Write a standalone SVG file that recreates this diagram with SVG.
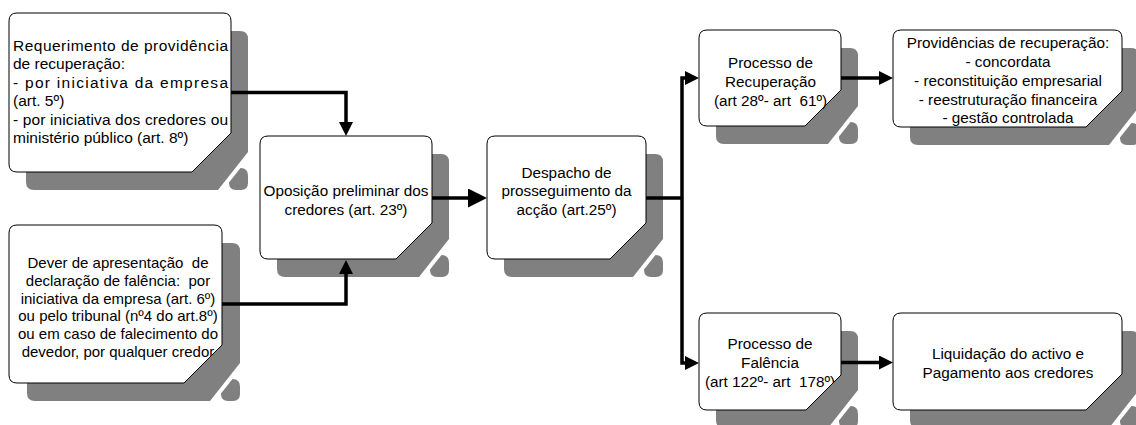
<svg xmlns="http://www.w3.org/2000/svg" width="1136" height="425" viewBox="0 0 1136 425">
<defs>
<style>
.sh{fill:#808080}
.bx{fill:#fff;stroke:#000;stroke-width:1}
.t{font-family:"Liberation Sans",Arial,sans-serif;font-size:15.3px;fill:#000}
.m{text-anchor:middle}
.cn{fill:none;stroke:#000;stroke-width:3.5;stroke-linejoin:miter}
</style>
<marker id="a" markerUnits="userSpaceOnUse" markerWidth="14" markerHeight="14" viewBox="0 0 14 14" refX="1" refY="7" orient="auto"><path d="M0,0 L14,7 L0,14 Z" fill="#000"/></marker>
<marker id="b" markerUnits="userSpaceOnUse" markerWidth="19" markerHeight="19" viewBox="0 0 19 19" refX="1" refY="9.5" orient="auto"><path d="M0,0 L19,9.5 L0,19 Z" fill="#000"/></marker>
<clipPath id="k2"><path d="M8,0 H205 Q213,0 213,8 V120 L175,158 H8 Q0,158 0,150 V8 Q0,0 8,0 Z"/></clipPath>
<clipPath id="k7"><path d="M8,0 H134 Q142,0 142,8 V62 L107,97 H8 Q0,97 0,89 V8 Q0,0 8,0 Z"/></clipPath>
</defs>

<g id="n1" transform="translate(9,13)">
<g transform="translate(17,18)">
<path class="sh" d="M8,0 H214 Q222,0 222,8 V121 L192,159 H8 Q0,159 0,151 V8 Q0,0 8,0 Z"/>
<path class="sh" d="M203,151.5 L214.5,137 Q222,137 222,144.5 V152 Q222,159 215,159 H210 Q203,159 203,152 Z"/>
</g>
<path class="bx" d="M8,0 H214 Q222,0 222,8 V120 L183,159 H8 Q0,159 0,151 V8 Q0,0 8,0 Z"/>
<g class="t" style="font-size:15.5px">
<text x="4" y="38" textLength="215" lengthAdjust="spacing">Requerimento de providência</text>
<text x="4" y="56">de recuperação:</text>
<text x="4" y="75" textLength="215" lengthAdjust="spacing">- por iniciativa  da empresa</text>
<text x="4" y="93">(art. 5º)</text>
<text x="4" y="112" textLength="215" lengthAdjust="spacing">- por iniciativa dos credores ou</text>
<text x="4" y="130">ministério público (art. 8º)</text>
</g>
</g>

<g id="n2" transform="translate(9,225)">
<g transform="translate(18,18)">
<path class="sh" d="M8,0 H205 Q213,0 213,8 V120 L183,158 H8 Q0,158 0,150 V8 Q0,0 8,0 Z"/>
<path class="sh" d="M194,150.5 L205.5,136 Q213,136 213,143.5 V151 Q213,158 206,158 H201 Q194,158 194,151 Z"/>
</g>
<path class="bx" d="M8,0 H205 Q213,0 213,8 V120 L175,158 H8 Q0,158 0,150 V8 Q0,0 8,0 Z"/>
<g class="t m" style="font-size:15px" clip-path="url(#k2)">
<text x="109" y="43" xml:space="preserve">Dever de apresentação  de</text>
<text x="109" y="60.8" xml:space="preserve">declaração de falência:  por</text>
<text x="109" y="78.6">iniciativa da empresa (art. 6º)</text>
<text x="109" y="96.4">ou pelo tribunal (nº4 do art.8º)</text>
<text x="109" y="114.2">ou em caso de falecimento do</text>
<text x="109" y="132">devedor, por qualquer credor</text>
</g>
</g>

<g id="n3" transform="translate(260,136)">
<g transform="translate(17,18)">
<path class="sh" d="M8,0 H164 Q172,0 172,8 V85 L142,123 H8 Q0,123 0,115 V8 Q0,0 8,0 Z"/>
<path class="sh" d="M153,115.5 L164.5,101 Q172,101 172,108.5 V116 Q172,123 165,123 H160 Q153,123 153,116 Z"/>
</g>
<path class="bx" d="M8,0 H164 Q172,0 172,8 V87 L136,123 H8 Q0,123 0,115 V8 Q0,0 8,0 Z"/>
<g class="t m">
<text x="86" y="59.5">Oposição preliminar dos</text>
<text x="86" y="78.5">credores (art. 23º)</text>
</g>
</g>

<g id="n4" transform="translate(487,136)">
<g transform="translate(17,18)">
<path class="sh" d="M8,0 H151 Q159,0 159,8 V85 L129,123 H8 Q0,123 0,115 V8 Q0,0 8,0 Z"/>
<path class="sh" d="M140,115.5 L151.5,101 Q159,101 159,108.5 V116 Q159,123 152,123 H147 Q140,123 140,116 Z"/>
</g>
<path class="bx" d="M8,0 H151 Q159,0 159,8 V87 L123,123 H8 Q0,123 0,115 V8 Q0,0 8,0 Z"/>
<g class="t m">
<text x="79.5" y="41.5">Despacho de</text>
<text x="79.5" y="60">prosseguimento da</text>
<text x="79.5" y="78.5">acção (art.25º)</text>
</g>
</g>

<g id="n5" transform="translate(699,30)">
<g transform="translate(17,18)">
<path class="sh" d="M8,0 H134 Q142,0 142,8 V58 L112,96 H8 Q0,96 0,88 V8 Q0,0 8,0 Z"/>
<path class="sh" d="M123,88.5 L134.5,74 Q142,74 142,81.5 V89 Q142,96 135,96 H130 Q123,96 123,89 Z"/>
</g>
<path class="bx" d="M8,0 H134 Q142,0 142,8 V60 L106,96 H8 Q0,96 0,88 V8 Q0,0 8,0 Z"/>
<g class="t m">
<text x="71.5" y="38">Processo de</text>
<text x="71.5" y="56.5">Recuperação</text>
<text x="71.5" y="75.5" xml:space="preserve">(art 28º- art  61º)</text>
</g>
</g>

<g id="n6" transform="translate(893,30)">
<g transform="translate(17,18)">
<path class="sh" d="M8,0 H221 Q229,0 229,8 V59 L199,97 H8 Q0,97 0,89 V8 Q0,0 8,0 Z"/>
<path class="sh" d="M210,89.5 L221.5,75 Q229,75 229,82.5 V90 Q229,97 222,97 H217 Q210,97 210,90 Z"/>
</g>
<path class="bx" d="M8,0 H221 Q229,0 229,8 V61 L193,97 H8 Q0,97 0,89 V8 Q0,0 8,0 Z"/>
<g class="t m">
<text x="115" y="18">Providências de recuperação:</text>
<text x="115" y="37">- concordata</text>
<text x="115" y="55.5">- reconstituição empresarial</text>
<text x="115" y="74.5">- reestruturação financeira</text>
<text x="115" y="93">- gestão controlada</text>
</g>
</g>

<g id="n7" transform="translate(699,313)">
<g transform="translate(17,18)">
<path class="sh" d="M8,0 H134 Q142,0 142,8 V59 L112,97 H8 Q0,97 0,89 V8 Q0,0 8,0 Z"/>
<path class="sh" d="M123,89.5 L134.5,75 Q142,75 142,82.5 V90 Q142,97 135,97 H130 Q123,97 123,90 Z"/>
</g>
<path class="bx" d="M8,0 H134 Q142,0 142,8 V62 L107,97 H8 Q0,97 0,89 V8 Q0,0 8,0 Z"/>
<g class="t m" clip-path="url(#k7)">
<text x="71" y="35.5">Processo de</text>
<text x="71" y="54.5">Falência</text>
<text x="71" y="74" xml:space="preserve">(art 122º- art  178º)</text>
</g>
</g>

<g id="n8" transform="translate(893,313)">
<g transform="translate(17,18)">
<path class="sh" d="M8,0 H221 Q229,0 229,8 V59 L199,97 H8 Q0,97 0,89 V8 Q0,0 8,0 Z"/>
<path class="sh" d="M210,89.5 L221.5,75 Q229,75 229,82.5 V90 Q229,97 222,97 H217 Q210,97 210,90 Z"/>
</g>
<path class="bx" d="M8,0 H221 Q229,0 229,8 V61 L193,97 H8 Q0,97 0,89 V8 Q0,0 8,0 Z"/>
<g class="t m">
<text x="115" y="45.5">Liquidação do activo e</text>
<text x="115" y="65">Pagamento aos credores</text>
</g>
</g>

<g id="connectors">
<path class="cn" d="M231,92.5 H346 V123" marker-end="url(#a)"/>
<path class="cn" d="M222,304 H346 V273" marker-end="url(#a)"/>
<path class="cn" d="M432,198 H469" marker-end="url(#b)"/>
<path class="cn" d="M646,198 H682"/>
<path class="cn" d="M682,198 V78 H686" marker-end="url(#a)"/>
<path class="cn" d="M682,198 V363 H686" marker-end="url(#a)"/>
<path class="cn" d="M841,78 H880" marker-end="url(#a)"/>
<path class="cn" d="M841,362.5 H880" marker-end="url(#a)"/>
</g>
</svg>
